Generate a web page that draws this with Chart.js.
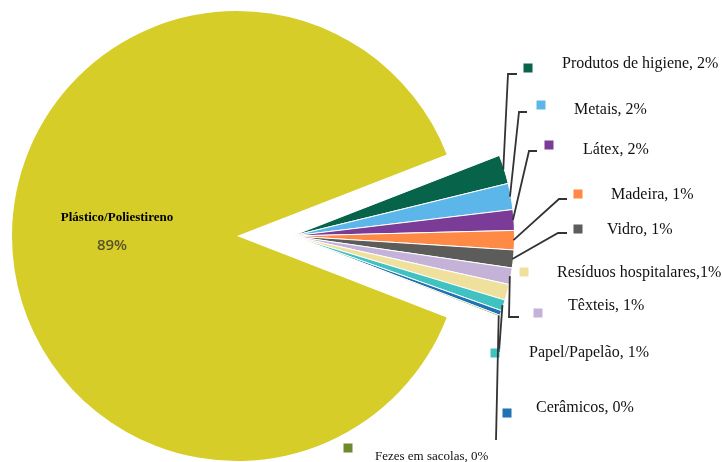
<!DOCTYPE html>
<html>
<head>
<meta charset="utf-8">
<script src="https://cdn.jsdelivr.net/npm/chart.js@4.4.0/dist/chart.umd.min.js"></script>
<style>
    html, body { margin: 0; padding: 0; background: #fff; }
    #wrap { position: relative; width: 722px; height: 462px; }
    #wrap canvas { position: absolute; left: 0; top: 0; }
</style>
</head>
<body>
<div id="wrap">
    <canvas id="big_graph" width="722" height="462"></canvas>
    <canvas id="small_graph" width="722" height="462"></canvas>
</div>
<script>
// data (slice order, clockwise from the top of the wedge)
const labels = ["Plástico/Poliestireno", "Produtos de higiene", "Metais", "Látex", "Madeira", "Vidro",
                "Têxteis", "Resíduos hospitalares", "Papel/Papelão", "Cerâmicos", "Fezes em sacolas"];
const values = [88.2, 2.1, 1.9, 1.5, 1.4, 1.3, 1.2, 1.15, 0.8, 0.35, 0.1];
const pct_labels = ["89%", "2%", "2%", "2%", "1%", "1%", "1%", "1%", "1%", "0%", "0%"];

const colors = ["#d6cd29", "#07634a", "#5db6ea", "#7a3c96", "#fe8a46", "#5c5c5a",
                "#c4b2d9", "#efe19d", "#3fc2c0", "#1f72b3", "#6e8a2c"];

// label placement (marker, text, leader line elbow)
const label_layout = [
    null,
    {mx: 528, my: 68,  tx: 562, ty: 64,  line: [[508, 74], [517, 74]]},
    {mx: 541, my: 105, tx: 574, ty: 110, line: [[519, 112], [527, 112]]},
    {mx: 549, my: 145, tx: 583, ty: 150, line: [[529, 151], [537, 151]]},
    {mx: 578, my: 194, tx: 611, ty: 195, line: [[559, 199], [567, 199]]},
    {mx: 578, my: 229, tx: 607, ty: 230, line: [[558, 233], [567, 233]]},
    {mx: 538, my: 313, tx: 568, ty: 306, line: [[509, 317], [519, 317]]},
    {mx: 524, my: 272, tx: 557, ty: 273, line: null, sep: ","},
    {mx: 495, my: 353, tx: 529, ty: 353, line: [[499, 352]]},
    {mx: 507, my: 413, tx: 536, ty: 408, line: null},
    {mx: 348, my: 448, tx: 375, ty: 457, line: [[496, 440]], size: 13}
];

let total = 0;
for (let v of values) { total += v; }
const big_span = values[0] / total * 360;
const rotation = 270 - big_span / 2;   // big slice centred on the left

const big_colors   = colors.map((c, i) => i === 0 ? c : "rgba(0,0,0,0)");
const small_colors = colors.map((c, i) => i === 0 ? "rgba(0,0,0,0)" : c);

const big_label_plugin = {
    id: "big_label",
    afterDraw(chart) {
        const ctx = chart.ctx;
        ctx.save();
        ctx.textAlign = "center";
        ctx.textBaseline = "middle";
        ctx.fillStyle = "#000";
        ctx.font = "bold 13px 'Liberation Serif'";
        ctx.fillText(labels[0], 117, 218);
        ctx.fillStyle = "#57522a";
        ctx.font = "600 15px 'Open Sans'";
        ctx.fillText(pct_labels[0], 112, 246);
        ctx.restore();
    }
};

const callout_plugin = {
    id: "callouts",
    afterDraw(chart) {
        const ctx = chart.ctx;
        const arcs = chart.getDatasetMeta(0).data;
        ctx.save();
        for (let i = 1; i < labels.length; i++) {
            const lay = label_layout[i];
            const arc = arcs[i];

            // leader line from the outer edge of the slice
            if (lay.line) {
                const mid = (arc.startAngle + arc.endAngle) / 2;
                const r = arc.outerRadius - 1;
                ctx.beginPath();
                ctx.moveTo(arc.x + Math.cos(mid) * r, arc.y + Math.sin(mid) * r);
                for (let p of lay.line) { ctx.lineTo(p[0], p[1]); }
                ctx.strokeStyle = "#333";
                ctx.lineWidth = 1.8;
                ctx.stroke();
            }

            ctx.fillStyle = colors[i];
            ctx.fillRect(lay.mx - 4.5, lay.my - 4.5, 9, 9);

            ctx.fillStyle = "#111";
            ctx.font = (lay.size || 16) + "px 'Liberation Serif'";
            ctx.textAlign = "left";
            ctx.textBaseline = "middle";
            let sep = lay.sep || ", ";
            ctx.fillText(labels[i] + sep + pct_labels[i], lay.tx, lay.ty);
        }
        ctx.restore();
    }
};

function base_options(padding) {
    return {
        responsive: false,
        animation: false,
        rotation: rotation,
        layout: { padding: padding },
        events: [],
        plugins: {
            legend: { display: false },
            tooltip: { enabled: false }
        }
    };
}

new Chart(document.getElementById("big_graph").getContext("2d"), {
    type: "pie",
    data: {
        labels: labels,
        datasets: [{
            data: values,
            backgroundColor: big_colors,
            borderWidth: 0
        }]
    },
    options: base_options({left: 12, right: 260, top: 11, bottom: 1}),
    plugins: [big_label_plugin]
});

new Chart(document.getElementById("small_graph").getContext("2d"), {
    type: "pie",
    data: {
        labels: labels,
        datasets: [{
            data: values,
            backgroundColor: small_colors,
            borderColor: "#ffffff",
            borderWidth: labels.map((l, i) => i === 0 ? 0 : 1)
        }]
    },
    options: base_options({left: 69, right: 207, top: 13, bottom: 3}),
    plugins: [callout_plugin]
});
</script>
</body>
</html>
